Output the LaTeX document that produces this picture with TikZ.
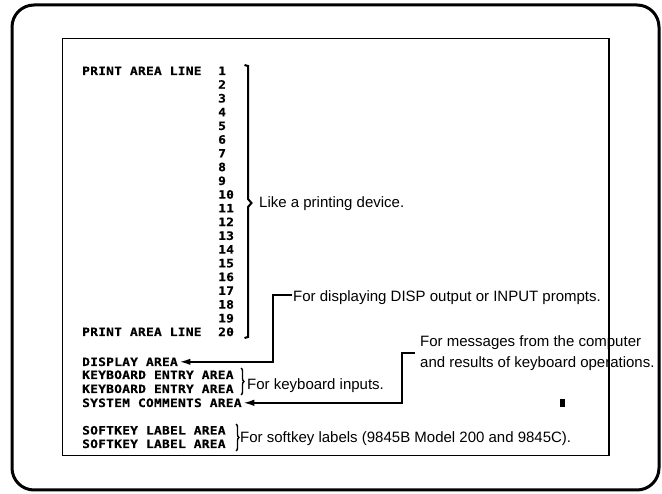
\documentclass[tikz,border=0pt]{standalone}
\usepackage{fontspec}
\setmainfont{Liberation Sans}
\newfontfamily\scrfont[FakeStretch=1.12,LetterSpace=2.2,FakeBold=0.6]{DejaVu Sans Mono Bold}
\usetikzlibrary{arrows.meta,decorations.pathreplacing}
\begin{document}
\begin{tikzpicture}[x=1pt,y=-1pt,
  scr/.style={font=\scrfont\fontsize{11.5}{11.5}\selectfont, inner sep=0pt, anchor=base west},
  lbl/.style={font=\fontsize{15}{21}\selectfont, inner sep=0pt, anchor=base west},
  conn/.style={line width=1.8pt, -{Latex[length=11pt,width=6.5pt]}},
  brc/.style={line width=1.4pt, decorate, decoration={brace, amplitude=3pt}},
  frame/.style={line width=3pt, rounded corners=22pt},
  screen/.style={line width=1.5pt}]
\useasboundingbox (0,0) rectangle (662,494);
% frames
\draw[frame] (12,5) rectangle (659,490);
\draw[screen] (62.5,38.5) rectangle (609,455.5);
% print area
\node[scr] (pal1) at (82,75) {PRINT AREA LINE};
\foreach \i in {1,...,20}{
  \node[scr] (n\i) at (218,{75+13.74*(\i-1)}) {\i};
}
\node[scr] (pal20) at (82,336) {PRINT AREA LINE};
\draw[line width=2pt] (244.5,65) -- (248,66) -- (248,199) -- (251.5,203) -- (248,207) -- (248,337) -- (244.5,338);
\node[lbl] (like) at (259,208) {Like a printing device.};
% lower areas
\node[scr, inner xsep=1.5pt] (disp) at (80.5,366) {DISPLAY AREA};
\node[scr] (kb1) at (82,379) {KEYBOARD ENTRY AREA};
\node[scr] (kb2) at (82,393) {KEYBOARD ENTRY AREA};
\node[scr, inner xsep=1.5pt] (sys) at (80.5,407) {SYSTEM COMMENTS AREA};
\node[scr] (sk1) at (82,434.5) {SOFTKEY LABEL AREA};
\node[scr] (sk2) at (82,448) {SOFTKEY LABEL AREA};
% labels
\node[lbl] (disptxt) at (293,302) {For displaying DISP output or INPUT prompts.};
\node[lbl] (kbtxt) at (247,390) {For keyboard inputs.};
\node[lbl] (msg1) at (420,347) {For messages from the computer};
\node[lbl] (msg2) at (420,368) {and results of keyboard operations.};
\node[lbl] (sktxt) at (240,443) {For softkey labels (9845B Model 200 and 9845C).};
% braces
\draw[brc] (241,368) -- (241,395);
\draw[brc] (236,424) -- (236,451);
% connectors
\coordinate (dstub) at (292,295);
\coordinate (sstub) at (415,353);
\draw[conn] (dstub) -- ++(-19,0) |- (disp.east);
\draw[conn] (sstub) -- ++(-13,0) |- (sys.east);
% cursor dot
\fill (560,399) rectangle (565,407);
\end{tikzpicture}
\end{document}
